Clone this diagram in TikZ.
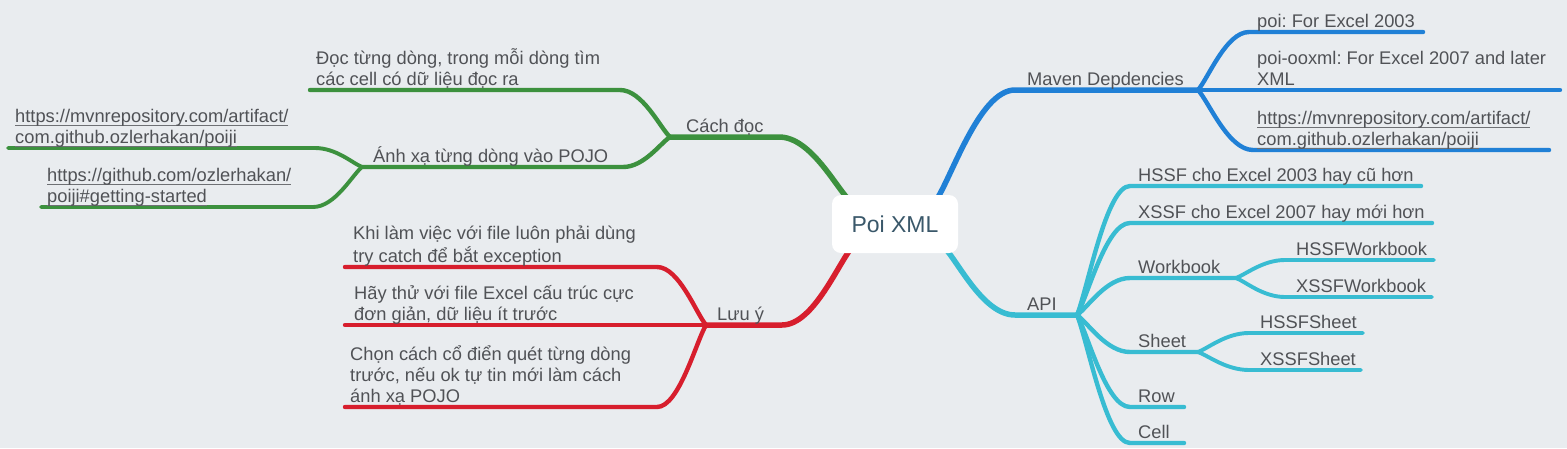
\documentclass[tikz,border=0pt]{standalone}
\usepackage{fontspec}
\setmainfont{Liberation Sans}
\frenchspacing
\usetikzlibrary{calc,backgrounds}
\definecolor{bgc}{RGB}{233,236,239}
\definecolor{gr}{RGB}{60,145,62}
\definecolor{rd}{RGB}{215,30,45}
\definecolor{bl}{RGB}{32,128,214}
\definecolor{cy}{RGB}{56,188,210}
\definecolor{txt}{RGB}{80,82,86}
\definecolor{ctr}{RGB}{58,88,106}
\definecolor{ulc}{RGB}{110,112,116}
\newcommand\ml[1]{\begin{tabular}[b]{@{}l@{}}#1\end{tabular}}
\newcommand\ulu[1]{\setbox0\hbox{#1}\rlap{\color{ulc}\rule[-3.5pt]{\wd0}{0.9pt}}\box0}
\tikzset{
  lbl/.style={anchor=base west, inner sep=0pt, font=\fontsize{18.3}{21}\selectfont, text=txt},
  br/.style={to path={.. controls ($(\tikztostart)!0.2!(\tikztotarget)$) and ($(\tikztotarget)!0.45!(\tikztostart|-\tikztotarget)$) .. (\tikztotarget) \tikztonodes}},
  lv1/.style={draw=#1, line width=5.5pt, line cap=round, line join=round},
  lv2/.style={draw=#1, line width=4.4pt, line cap=round, line join=round},
  lv3/.style={draw=#1, line width=3.9pt, line cap=round, line join=round},
  rootbox/.style={fill=white, rounded corners=9pt, minimum width=126pt, minimum height=58pt, inner sep=0pt, font=\fontsize{23}{26}\selectfont, text=ctr}
}
\begin{document}
\begin{tikzpicture}[x=1pt,y=-1pt]
\useasboundingbox (0,0) rectangle (1567,448);
\node[rootbox] (root) at (895,224) {Poi XML};
% ---------- coordinates
\coordinate (gB) at ($(root.center)+(-44,-22)$);
\coordinate (bB) at ($(root.center)+(40,-22)$);
\coordinate (rB) at ($(root.center)+(-42,22)$);
\coordinate (cB) at ($(root.center)+(48,22)$);
% green
\coordinate (gC) at (779,137); \coordinate (gJ) at (670,137);
\coordinate (g1c) at (620,90); \coordinate (g1e) at (310,90);
\coordinate (g2c) at (623,167); \coordinate (g2J) at (362,167);
\coordinate (g3c) at (315,148); \coordinate (g3e) at (8,148);
\coordinate (g4c) at (313,207); \coordinate (g4e) at (41,207);
% red
\coordinate (rC) at (782,325); \coordinate (rJ) at (706,325);
\coordinate (r1c) at (657,267); \coordinate (r1e) at (345,267);
\coordinate (r2e) at (345,325);
\coordinate (r3c) at (657,407); \coordinate (r3e) at (345,407);
% blue
\coordinate (bC) at (1015,90); \coordinate (bJ) at (1198,90);
\coordinate (b1c) at (1249,32); \coordinate (b1e) at (1423,32);
\coordinate (b2e) at (1560,90);
\coordinate (b3c) at (1253,150); \coordinate (b3e) at (1549,150);
% cyan
\coordinate (cC) at (1015,315); \coordinate (cJ) at (1077,315);
\coordinate (c1c) at (1130,186); \coordinate (c1e) at (1421,186);
\coordinate (c2c) at (1130,223); \coordinate (c2e) at (1432,223);
\coordinate (c3c) at (1130,278); \coordinate (cWJ) at (1236,278);
\coordinate (c31c) at (1285,260); \coordinate (c31e) at (1434,260);
\coordinate (c32c) at (1285,297); \coordinate (c32e) at (1432,297);
\coordinate (c4c) at (1130,352); \coordinate (cSJ) at (1198,352);
\coordinate (c41c) at (1249,333); \coordinate (c41e) at (1363,333);
\coordinate (c42c) at (1249,370); \coordinate (c42e) at (1361,370);
\coordinate (c5c) at (1130,407); \coordinate (c5e) at (1184,407);
\coordinate (c6c) at (1130,443); \coordinate (c6e) at (1184,443);
% ---------- connectors
\begin{pgfonlayer}{background}
\fill[bgc] (0,0) rectangle (1567,448);
\draw[lv1=gr] (gB) to[br] (gC) -- (gJ);
\draw[lv2=gr] (gJ) to[br] (g1c) -- (g1e);
\draw[lv2=gr] (gJ) to[br] (g2c) -- (g2J);
\draw[lv3=gr] (g2J) to[br] (g3c) -- (g3e);
\draw[lv3=gr] (g2J) to[br] (g4c) -- (g4e);
\draw[lv1=rd] (rB) to[br] (rC) -- (rJ);
\draw[lv2=rd] (rJ) to[br] (r1c) -- (r1e);
\draw[lv2=rd] (rJ) -- (r2e);
\draw[lv2=rd] (rJ) to[br] (r3c) -- (r3e);
\draw[lv1=bl] (bB) to[br] (bC) -- (bJ);
\draw[lv2=bl] (bJ) to[br] (b1c) -- (b1e);
\draw[lv2=bl] (bJ) -- (b2e);
\draw[lv2=bl] (bJ) to[br] (b3c) -- (b3e);
\draw[lv1=cy] (cB) to[br] (cC) -- (cJ);
\draw[lv2=cy] (cJ) to[br] (c1c) -- (c1e);
\draw[lv2=cy] (cJ) to[br] (c2c) -- (c2e);
\draw[lv2=cy] (cJ) to[br] (c3c) -- (cWJ);
\draw[lv3=cy] (cWJ) to[br] (c31c) -- (c31e);
\draw[lv3=cy] (cWJ) to[br] (c32c) -- (c32e);
\draw[lv2=cy] (cJ) to[br] (c4c) -- (cSJ);
\draw[lv3=cy] (cSJ) to[br] (c41c) -- (c41e);
\draw[lv3=cy] (cSJ) to[br] (c42c) -- (c42e);
\draw[lv2=cy] (cJ) to[br] (c5c) -- (c5e);
\draw[lv2=cy] (cJ) to[br] (c6c) -- (c6e);
\end{pgfonlayer}
% ---------- labels
\node[lbl] (cachdoc) at (686,132) {Cách đọc};
\node[lbl] (docdong) at (316,85) {\ml{Đọc từng dòng, trong mỗi dòng tìm\\các cell có dữ liệu đọc ra}};
\node[lbl] (anhxa) at (373,162) {Ánh xạ từng dòng vào POJO};
\node[lbl] (url1) at (15,143) {\ml{\ulu{https://mvnrepository.com/artifact/}\\\ulu{com.github.ozlerhakan/poiji}}};
\node[lbl] (url2) at (47,202) {\ml{\ulu{https://github.com/ozlerhakan/}\\\ulu{poiji\#getting-started}}};
\node[lbl] (luuy) at (717,320) {Lưu ý};
\node[lbl] (khi) at (353,262) {\ml{Khi làm việc với file luôn phải dùng\\try catch để bắt exception}};
\node[lbl] (hay) at (354,320) {\ml{Hãy thử với file Excel cấu trúc cực\\đơn giản, dữ liệu ít trước}};
\node[lbl] (chon) at (350,402) {\ml{Chọn cách cổ điển quét từng dòng\\trước, nếu ok tự tin mới làm cách\\ánh xạ POJO}};
\node[lbl] (maven) at (1027,85) {Maven Depdencies};
\node[lbl] (poi) at (1257,27) {poi: For Excel 2003};
\node[lbl] (ooxml) at (1257,85) {\ml{poi-ooxml: For Excel 2007 and later\\XML}};
\node[lbl] (url3) at (1257,145) {\ml{\ulu{https://mvnrepository.com/artifact/}\\\ulu{com.github.ozlerhakan/poiji}}};
\node[lbl] (api) at (1027,310) {API};
\node[lbl] (hssfc) at (1138,181) {HSSF cho Excel 2003 hay cũ hơn};
\node[lbl] (xssfc) at (1138,218) {XSSF cho Excel 2007 hay mới hơn};
\node[lbl] (wb) at (1138,273) {Workbook};
\node[lbl] (hwb) at (1296,255) {HSSFWorkbook};
\node[lbl] (xwb) at (1296,292) {XSSFWorkbook};
\node[lbl] (sheet) at (1138,347) {Sheet};
\node[lbl] (hsh) at (1260,328) {HSSFSheet};
\node[lbl] (xsh) at (1260,365) {XSSFSheet};
\node[lbl] (row) at (1138,402) {Row};
\node[lbl] (cell) at (1138,438) {Cell};
\end{tikzpicture}
\end{document}
